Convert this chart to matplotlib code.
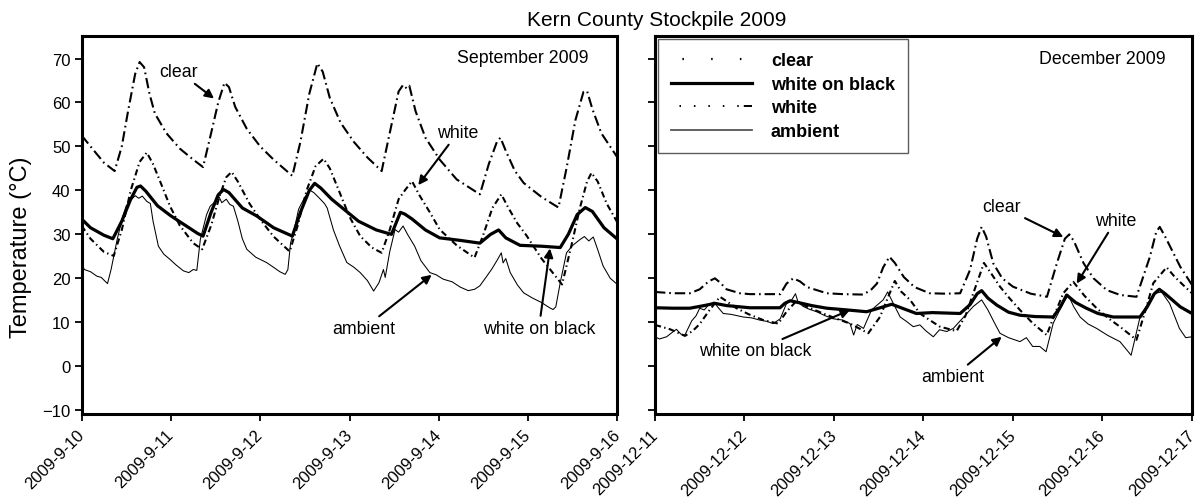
import matplotlib
matplotlib.use("Agg")
import matplotlib.pyplot as plt
from matplotlib.lines import Line2D

plt.rcParams['font.family'] = ['Liberation Sans', 'DejaVu Sans']
plt.rcParams['lines.scale_dashes'] = False

# ---------------- data (days since start of each window, temperature in deg C) ----------------
sep_labels = ["2009-9-10", "2009-9-11", "2009-9-12", "2009-9-13", "2009-9-14", "2009-9-15", "2009-9-16"]
dec_labels = ["2009-12-11", "2009-12-12", "2009-12-13", "2009-12-14", "2009-12-15", "2009-12-16", "2009-12-17"]

sep_clear_t = [0.00, 0.12, 0.25, 0.37, 0.45, 0.52, 0.60, 0.65, 0.70, 0.76, 0.82, 0.95, 1.10, 1.25, 1.36,
               1.45, 1.53, 1.60, 1.65, 1.72, 1.85, 2.00, 2.15, 2.36, 2.45, 2.55, 2.64, 2.70, 2.78, 2.90,
               3.05, 3.20, 3.36, 3.45, 3.55, 3.60, 3.64, 3.67, 3.74, 3.85, 4.01, 4.20, 4.46, 4.56, 4.65,
               4.69, 4.75, 4.85, 4.95, 5.15, 5.34, 5.43, 5.53, 5.62, 5.66, 5.72, 5.82, 6.00]
sep_clear_v = [52.5, 49.5, 46.3, 44.4, 50.0, 58.0, 66.5, 69.2, 68.0, 62.0, 57.5, 53.0, 49.5, 47.0, 45.3,
               53.0, 60.0, 64.5, 63.5, 59.0, 54.0, 50.0, 47.0, 43.3, 51.0, 62.0, 68.9, 67.0, 61.0, 55.4,
               51.0, 47.5, 44.4, 53.0, 62.5, 64.0, 63.2, 63.8, 58.0, 52.0, 47.0, 42.5, 39.1, 46.0, 51.0,
               52.0, 49.0, 44.5, 41.7, 38.5, 36.1, 45.0, 56.0, 62.4, 62.6, 58.5, 53.0, 47.5]

sep_wob_t = [0.00, 0.10, 0.25, 0.35, 0.45, 0.55, 0.62, 0.66, 0.72, 0.85, 1.00, 1.15, 1.30, 1.36, 1.45,
             1.53, 1.59, 1.65, 1.80, 1.96, 2.15, 2.36, 2.45, 2.55, 2.61, 2.68, 2.80, 2.95, 3.10, 3.30,
             3.47, 3.53, 3.57, 3.62, 3.70, 3.85, 4.01, 4.25, 4.46, 4.58, 4.67, 4.75, 4.91, 5.15, 5.36,
             5.45, 5.55, 5.64, 5.72, 5.85, 6.00]
sep_wob_v = [33.5, 31.5, 29.8, 29.0, 33.0, 38.0, 40.7, 41.0, 39.8, 36.5, 34.2, 32.2, 30.2, 29.6, 35.0,
             39.0, 40.2, 39.5, 36.0, 34.2, 31.5, 29.6, 35.0, 40.0, 41.6, 40.5, 38.0, 35.5, 33.0, 31.0,
             30.0, 33.0, 35.0, 34.6, 33.5, 31.0, 29.2, 28.6, 28.0, 30.0, 31.0, 29.2, 27.5, 27.3, 27.0,
             30.0, 34.5, 36.1, 35.2, 31.5, 28.9]

sep_white_t = [0.00, 0.10, 0.25, 0.36, 0.45, 0.55, 0.65, 0.73, 0.80, 0.90, 0.99, 1.10, 1.25, 1.35, 1.45,
               1.55, 1.62, 1.68, 1.75, 1.88, 2.00, 2.15, 2.33, 2.42, 2.52, 2.62, 2.71, 2.78, 2.89, 3.00,
               3.12, 3.25, 3.36, 3.45, 3.55, 3.62, 3.70, 3.78, 3.90, 4.01, 4.20, 4.40, 4.50, 4.60, 4.70,
               4.78, 4.88, 4.98, 5.15, 5.38, 5.48, 5.58, 5.66, 5.71, 5.78, 5.88, 6.00]
sep_white_v = [32.0, 29.0, 26.0, 25.1, 31.0, 40.0, 46.5, 48.6, 46.0, 41.0, 36.4, 32.0, 28.0, 26.6, 32.0,
               39.0, 43.0, 44.2, 42.0, 37.0, 33.4, 29.5, 26.1, 32.0, 40.0, 45.5, 47.2, 45.0, 39.5, 34.0,
               29.6, 27.0, 25.8, 31.0, 38.0, 40.0, 42.1, 39.0, 35.0, 31.1, 27.5, 24.7, 30.0, 36.0, 39.1,
               36.0, 32.5, 29.8, 24.5, 18.6, 27.0, 36.0, 42.0, 44.0, 42.0, 37.0, 32.7]

sep_amb_t = [0.00, 0.03, 0.10, 0.17, 0.22, 0.29, 0.33, 0.40, 0.46, 0.50, 0.55, 0.60, 0.64, 0.68, 0.73,
             0.77, 0.80, 0.86, 0.92, 0.99, 1.06, 1.14, 1.20, 1.25, 1.29, 1.33, 1.40, 1.44, 1.50, 1.54,
             1.57, 1.62, 1.66, 1.70, 1.75, 1.80, 1.85, 1.95, 2.07, 2.15, 2.22, 2.28, 2.31, 2.34, 2.38,
             2.43, 2.50, 2.56, 2.60, 2.65, 2.72, 2.75, 2.82, 2.89, 2.97, 3.05, 3.12, 3.20, 3.27, 3.33,
             3.38, 3.40, 3.45, 3.51, 3.55, 3.60, 3.65, 3.73, 3.80, 3.90, 3.97, 4.05, 4.15, 4.24, 4.33,
             4.40, 4.46, 4.52, 4.59, 4.65, 4.70, 4.72, 4.75, 4.80, 4.88, 4.95, 5.05, 5.15, 5.21, 5.25,
             5.28, 5.31, 5.36, 5.43, 5.50, 5.58, 5.63, 5.68, 5.73, 5.78, 5.84, 5.92, 6.00]
sep_amb_v = [23.5, 22.0, 21.5, 20.5, 20.2, 18.8, 22.0, 29.0, 34.0, 36.5, 37.8, 38.8, 38.2, 38.7, 37.5,
             37.0, 33.0, 27.3, 25.5, 24.3, 23.0, 21.7, 21.3, 22.0, 21.8, 28.9, 34.5, 36.4, 37.5, 38.5,
             37.2, 38.0, 36.8, 36.4, 33.0, 29.0, 26.6, 24.8, 23.6, 22.5, 21.5, 20.9, 22.0, 28.0, 31.0,
             35.7, 38.5, 40.0, 39.5, 38.5, 37.0, 36.0, 31.0, 27.3, 23.6, 22.5, 21.3, 19.5, 17.1, 19.0,
             22.0, 20.2, 26.0, 31.1, 30.5, 31.9, 30.0, 27.3, 24.0, 21.3, 20.8, 19.8, 19.2, 18.0, 17.2,
             17.5, 18.3, 20.0, 22.0, 24.0, 25.8, 23.5, 24.5, 21.3, 18.5, 16.7, 15.5, 14.5, 13.7, 13.2,
             12.9, 13.5, 19.0, 25.8, 27.5, 28.8, 29.5, 28.5, 29.4, 26.5, 22.8, 20.0, 18.6]

dec_clear_t = [0.00, 0.20, 0.39, 0.50, 0.60, 0.67, 0.73, 0.80, 0.95, 1.06, 1.25, 1.40, 1.47, 1.545, 1.62,
               1.70, 1.92, 2.10, 2.33, 2.42, 2.48, 2.55, 2.62, 2.68, 2.78, 2.90, 3.07, 3.25, 3.41, 3.52,
               3.60, 3.65, 3.70, 3.78, 3.88, 4.00, 4.20, 4.38, 4.49, 4.58, 4.63, 4.68, 4.79, 4.90, 5.05,
               5.20, 5.38, 5.53, 5.60, 5.64, 5.70, 5.87, 6.00]
dec_clear_v = [16.9, 16.6, 16.6, 17.5, 19.3, 20.0, 19.0, 17.5, 16.6, 16.4, 16.4, 16.4, 18.8, 20.0, 19.3,
               18.0, 16.6, 16.4, 16.3, 17.5, 18.8, 22.5, 24.9, 23.5, 20.3, 18.0, 16.6, 16.5, 16.6, 21.9,
               29.0, 31.7, 29.5, 23.4, 20.0, 18.1, 16.5, 15.8, 23.4, 29.0, 30.0, 28.5, 23.4, 20.0, 17.3,
               16.2, 15.8, 24.9, 30.5, 31.7, 29.5, 22.6, 18.5]

dec_wob_t = [0.00, 0.20, 0.39, 0.55, 0.67, 0.80, 1.06, 1.397, 1.45, 1.51, 1.60, 1.75, 1.92, 2.15, 2.365,
             2.50, 2.645, 2.75, 2.92, 3.10, 3.41, 3.52, 3.60, 3.65, 3.72, 3.82, 3.95, 4.08, 4.25, 4.45,
             4.53, 4.60, 4.70, 4.82, 4.95, 5.12, 5.42, 5.50, 5.58, 5.635, 5.70, 5.87, 6.00]
dec_wob_v = [13.3, 13.2, 13.2, 13.8, 14.3, 13.8, 13.3, 13.3, 14.3, 14.9, 14.5, 13.8, 13.2, 12.8, 12.4,
             13.2, 14.1, 13.3, 12.0, 12.2, 12.0, 14.0, 16.5, 17.2, 15.5, 13.9, 12.3, 11.6, 11.3, 11.2,
             13.5, 16.2, 14.5, 13.2, 12.0, 11.2, 11.2, 13.5, 16.5, 17.5, 16.5, 13.5, 12.0]

dec_white_t = [0.00, 0.17, 0.335, 0.42, 0.50, 0.60, 0.726, 0.80, 0.91, 1.05, 1.21, 1.378, 1.47, 1.583, 1.70,
               1.88, 2.03, 2.18, 2.383, 2.514, 2.60, 2.68, 2.75, 2.85, 2.96, 3.07, 3.184, 3.37, 3.47, 3.557,
               3.676, 3.76, 3.855, 3.96, 4.078, 4.22, 4.377, 4.47, 4.562, 4.674, 4.80, 4.935, 5.06, 5.195,
               5.38, 5.47, 5.568, 5.717, 5.80, 5.90, 6.00]
dec_white_v = [9.4, 8.4, 6.9, 8.0, 9.6, 12.5, 15.8, 14.8, 13.2, 11.8, 10.5, 9.7, 12.4, 14.9, 13.5,
               12.0, 10.8, 9.7, 7.5, 11.2, 15.5, 19.4, 17.0, 15.1, 12.0, 10.5, 9.0, 8.0, 11.5, 16.6,
               23.5, 21.0, 18.1, 15.5, 12.8, 9.8, 7.1, 12.0, 16.6, 19.2, 16.0, 13.2, 11.0, 9.0,
               6.0, 12.0, 18.9, 22.5, 20.5, 18.5, 16.6]

dec_amb_t = [0.00, 0.05, 0.13, 0.18, 0.24, 0.29, 0.335, 0.41, 0.46, 0.50, 0.55, 0.60, 0.63, 0.66, 0.70,
             0.763, 0.85, 0.986, 1.08, 1.17, 1.25, 1.322, 1.40, 1.47, 1.52, 1.57, 1.60, 1.657, 1.72, 1.806,
             1.90, 1.99, 2.10, 2.18, 2.22, 2.26, 2.33, 2.42, 2.55, 2.60, 2.67, 2.74, 2.81, 2.886, 2.96,
             3.03, 3.11, 3.18, 3.26, 3.333, 3.45, 3.557, 3.65, 3.72, 3.79, 3.855, 3.95, 4.078, 4.15, 4.22,
             4.30, 4.37, 4.45, 4.56, 4.617, 4.68, 4.75, 4.84, 4.935, 5.06, 5.195, 5.26, 5.32, 5.42, 5.57,
             5.66, 5.75, 5.86, 5.93, 6.00]
dec_amb_v = [6.7, 6.2, 6.7, 7.5, 8.4, 7.3, 7.1, 10.3, 11.5, 13.2, 12.8, 14.0, 14.3, 14.6, 13.5,
             12.0, 11.8, 11.2, 11.0, 10.5, 10.2, 9.7, 10.8, 14.3, 14.8, 16.5, 14.5, 13.6, 13.0, 12.4,
             11.5, 10.8, 10.5, 9.7, 7.1, 9.5, 8.6, 12.8, 15.1, 16.9, 14.0, 11.2, 10.2, 9.0, 9.4,
             8.0, 6.7, 8.3, 7.9, 8.6, 11.2, 13.6, 15.1, 12.8, 10.0, 7.5, 6.5, 5.6, 6.5, 4.5,
             4.5, 3.3, 9.8, 14.3, 16.2, 13.5, 11.2, 9.6, 8.6, 7.0, 5.6, 4.0, 2.5, 11.2, 16.5,
             16.9, 14.3, 8.6, 6.5, 6.7]

yticks = [-10, 0, 10, 20, 30, 40, 50, 60, 70]
series_names = ["clear", "white on black", "white", "ambient"]

# ---------------- styles ----------------
CLEAR_LS = (0, (7.5, 2.8, 1.2, 2.8))
WHITE_LS = (0, (4.5, 2.4, 1.0, 2.4))
sty = {
    "clear": dict(color="black", lw=1.5, ls=CLEAR_LS),
    "white on black": dict(color="black", lw=2.3, ls="-"),
    "white": dict(color="black", lw=1.5, ls=WHITE_LS),
    "ambient": dict(color="black", lw=0.75, ls="-"),
}

fig = plt.figure(figsize=(12, 5.02), dpi=100)
axL = fig.add_axes([0.068, 0.173, 0.4465, 0.754])
axR = fig.add_axes([0.5458, 0.173, 0.4475, 0.754])

tick_fs = 12

def draw(ax, data, labels):
    for name, (t, v) in zip(series_names, data):
        ax.plot(t, v, **sty[name])
    ax.set_xlim(0, 6)
    ax.set_ylim(-10.9, 75.2)
    ax.set_yticks(yticks)
    ax.set_xticks(range(len(labels)))
    ax.set_xticklabels(labels, rotation=45, ha="right", va="center", rotation_mode="anchor",
                       fontsize=tick_fs)
    ax.tick_params(direction="out", length=5, width=1.3, labelsize=tick_fs, pad=3)
    ax.tick_params(axis="x", pad=8)
    for s in ax.spines.values():
        s.set_linewidth(2.2)

draw(axL, [(sep_clear_t, sep_clear_v), (sep_wob_t, sep_wob_v),
           (sep_white_t, sep_white_v), (sep_amb_t, sep_amb_v)], sep_labels)
draw(axR, [(dec_clear_t, dec_clear_v), (dec_wob_t, dec_wob_v),
           (dec_white_t, dec_white_v), (dec_amb_t, dec_amb_v)], dec_labels)
axR.tick_params(axis="y", labelleft=False)

axL.set_ylabel("Temperature (°C)", fontsize=17)
axL.yaxis.set_label_coords(-0.092, 0.444)

ann_fs = 12.8
akw = dict(arrowstyle="-|>", color="black", lw=1.5, mutation_scale=13, shrinkA=1, shrinkB=0)

# September annotations
axL.annotate("clear", xy=(1.483, 60.9), xytext=(1.09, 67.0), fontsize=ann_fs,
             ha="center", va="center", arrowprops=akw)
axL.annotate("white", xy=(3.77, 41.2), xytext=(4.215, 53.2), fontsize=ann_fs,
             ha="center", va="center", arrowprops=akw)
axL.annotate("ambient", xy=(3.92, 20.8), xytext=(3.16, 8.6), fontsize=ann_fs,
             ha="center", va="center", arrowprops=akw)
axL.annotate("white on black", xy=(5.245, 26.8), xytext=(5.12, 8.6), fontsize=ann_fs,
             ha="center", va="center", arrowprops=akw)
axL.text(0.946, 0.943, "September 2009", transform=axL.transAxes, ha="right", va="center",
         fontsize=ann_fs)

# December annotations
axR.annotate("white on black", xy=(2.179, 12.8), xytext=(1.117, 3.5), fontsize=ann_fs,
             ha="center", va="center", arrowprops=akw)
axR.annotate("ambient", xy=(3.874, 6.7), xytext=(3.33, -2.4), fontsize=ann_fs,
             ha="center", va="center", arrowprops=akw)
axR.annotate("clear", xy=(4.563, 29.4), xytext=(3.874, 36.3), fontsize=ann_fs,
             ha="center", va="center", arrowprops=akw)
axR.annotate("white", xy=(4.712, 18.8), xytext=(5.15, 33.2), fontsize=ann_fs,
             ha="center", va="center", arrowprops=akw)
axR.text(0.951, 0.940, "December 2009", transform=axR.transAxes, ha="right", va="center",
         fontsize=ann_fs)

# legend (custom sample lines to mimic the original key)
handles = [
    Line2D([], [], color="black", lw=1.6, ls=(12.5, (1.1, 19.6))),
    Line2D([], [], color="black", lw=2.3, ls="-"),
    Line2D([], [], color="black", lw=1.4, ls=(63.2, (1.1, 9.3, 1.1, 9.3, 1.1, 9.3, 1.1, 9.3, 1.1, 3.6, 8.6, 14.4))),
    Line2D([], [], color="#555555", lw=1.3, ls="-"),
]
leg = axR.legend(handles, series_names, loc="upper left", bbox_to_anchor=(0.005, 0.99),
                 borderaxespad=0, frameon=True, fancybox=False, edgecolor="#333333",
                 prop=dict(weight="bold", size=13), handlelength=4.5, handletextpad=1.05,
                 labelspacing=0.36, borderpad=0.72)
leg.get_frame().set_linewidth(1.0)

fig.text(0.547, 0.959, "Kern County Stockpile 2009", ha="center", va="center", fontsize=15)

fig.savefig("out.png", dpi=100)
